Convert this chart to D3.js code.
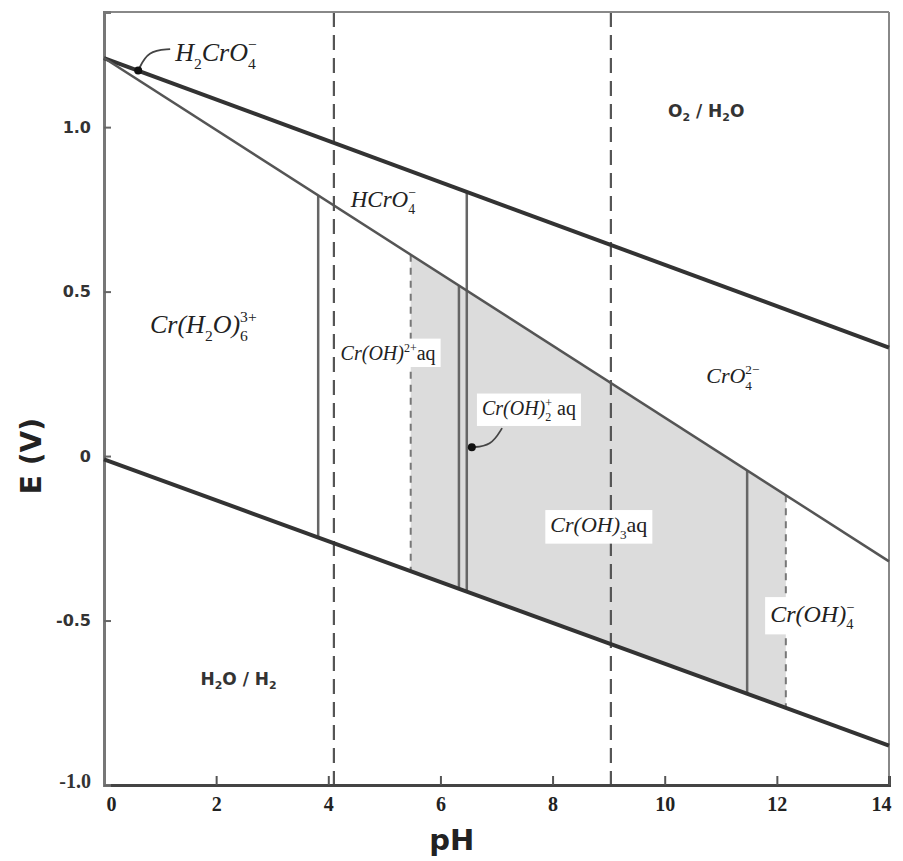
<!DOCTYPE html>
<html>
<head>
<meta charset="utf-8">
<script src="https://cdn.jsdelivr.net/npm/d3@7"></script>
<style>
  html, body { margin: 0; padding: 0; background: #fff; }
  svg { display: block; }
</style>
</head>
<body>
<svg id="chart" width="903" height="861"></svg>
<script>
// ---------------- DATA ----------------
const xTicks = [0, 2, 4, 6, 8, 10, 12, 14];
const yTicks = [-1.0, -0.5, 0, 0.5, 1.0];
const yTickLabels = ["-1.0", "-0.5", "0", "0.5", "1.0"];

// straight lines given by E at pH 0 and E at pH 14
const lineNames = ["o2", "h2", "cr"];
const lineE0  = [1.21, -0.01, 1.21];
const lineE14 = [0.33, -0.88, -0.32];
const lineWidths = [4, 4, 2.5];
const lineColors = ["#333", "#333", "#555"];

// vertical boundaries between species
const boundaryPH   = [3.82, 6.47, 6.33, 11.47, 5.47, 12.16];
const boundaryTop  = ["cr", "o2", "cr", "cr", "cr", "cr"];
const boundaryBot  = ["h2", "cr", "h2", "h2", "h2", "h2"];
const boundaryDash = [false, false, false, false, true, true];
// the 6.47 boundary continues below the Cr line
const boundary2PH = [6.47];

// long reference dashed lines
const refPH = [4.1, 9.04];

// shaded region (between Cr line and H2 line)
const shadeFromPH = 5.47;
const shadeToPH = 12.16;

// species labels
const labelTexts = [
  [{t:"H"},{sub:"2"},{t:"CrO"},{sub:"4",sup:"−"}],
  [{t:"HCrO"},{sub:"4",sup:"−"}],
  [{t:"Cr(H"},{sub:"2"},{t:"O)"},{sub:"6",sup:"3+"}],
  [{t:"Cr(OH)"},{sup:"2+"},{t:"aq",up:true}],
  [{t:"Cr(OH)"},{sub:"2",sup:"+"},{t:" aq",up:true}],
  [{t:"Cr(OH)"},{sub:"3"},{t:"aq",up:true}],
  [{t:"CrO"},{sub:"4",sup:"2−"}],
  [{t:"Cr(OH)"},{sub:"4",sup:"−"}]
];
const labelPH   = [1.27, 4.40, 0.82, 4.22, 6.74, 7.96, 10.74, 11.88];
const labelE    = [1.20, 0.757, 0.374, 0.292, 0.125, -0.231, 0.222, -0.505];
const labelSize = [26, 23, 26, 20, 20, 22, 22, 24];
const labelBox  = [false, true, false, true, true, true, false, true];

// water labels
const waterText = [["O", "2", " / H", "2", "O"], ["H", "2", "O / H", "2", ""]];
const waterPH = [10.74, 2.4];
const waterE  = [1.03, -0.696];

// annotated points with leaders (pH, E of dot ; leader path points)
const dotPH = [0.61, 6.56];
const dotE  = [1.172, 0.027];
const leader1 = [[0.61, 1.172], [0.78, 1.232], [1.18, 1.237]];
const leader2 = [[7.1, 0.085], [6.9, 0.03], [6.56, 0.027]];

// ---------------- CHART ----------------
const svg = d3.select("#chart");
const x = d3.scaleLinear().domain([0, 14]).range([104, 889]);
const y = d3.scaleLinear().domain([-1.0, 1.35]).range([785, 12]);

function lineE(name, ph) {
  const i = lineNames.indexOf(name);
  return lineE0[i] + (lineE14[i] - lineE0[i]) * ph / 14;
}

const gShade = svg.append("g");
const gDash = svg.append("g");
const gBox = svg.append("g");
const gLine = svg.append("g");
const gText = svg.append("g");

// shade
const shadePts = [];
for (const ph of [shadeFromPH, shadeToPH]) shadePts.push([x(ph), y(lineE("cr", ph))]);
for (const ph of [shadeToPH, shadeFromPH]) shadePts.push([x(ph), y(lineE("h2", ph))]);
gShade.append("path")
  .attr("d", d3.line()(shadePts) + "Z")
  .attr("fill", "#dcdcdc");

// long dashed reference lines
gDash.selectAll("line.ref").data(refPH).join("line")
  .attr("x1", d => x(d)).attr("x2", d => x(d))
  .attr("y1", y(1.35)).attr("y2", y(-1.0))
  .attr("stroke", "#555").attr("stroke-width", 2.2)
  .attr("stroke-dasharray", "15,8");

// short dashed boundaries
boundaryPH.forEach((ph, i) => {
  if (!boundaryDash[i]) return;
  gDash.append("line")
    .attr("x1", x(ph)).attr("x2", x(ph))
    .attr("y1", y(lineE(boundaryTop[i], ph))).attr("y2", y(lineE(boundaryBot[i], ph)))
    .attr("stroke", "#777").attr("stroke-width", 2)
    .attr("stroke-dasharray", "7,6");
});

// frame
gLine.append("line").attr("x1", x(0)).attr("x2", x(14)).attr("y1", y(1.35)).attr("y2", y(1.35))
  .attr("stroke", "#888").attr("stroke-width", 2);
gLine.append("line").attr("x1", x(14)).attr("x2", x(14)).attr("y1", y(1.35)).attr("y2", y(-1.0))
  .attr("stroke", "#888").attr("stroke-width", 2);

// axes
const xAxis = d3.axisBottom(x).tickValues(xTicks).tickSize(-9).tickPadding(12).tickFormat(d3.format("d"));
const gx = gLine.append("g").attr("transform", `translate(0,${y(-1.0)})`).call(xAxis);
gx.select(".domain").attr("stroke", "#444").attr("stroke-width", 3);
gx.selectAll(".tick line").attr("stroke", "#555").attr("stroke-width", 2);
gx.selectAll(".tick text")
  .attr("font-family", "'Liberation Serif', serif").attr("font-weight", "bold")
  .attr("font-size", 20).attr("fill", "#222")
  .attr("dx", d => d === 0 ? 7 : (d === 14 ? -8 : 0));

const yAxis = d3.axisLeft(y).tickValues(yTicks).tickSize(-7).tickPadding(13)
  .tickFormat((d, i) => yTickLabels[i]);
const gy = gLine.append("g").attr("transform", `translate(${x(0)},0)`).call(yAxis);
gy.select(".domain").attr("stroke", "#777").attr("stroke-width", 3);
gy.selectAll(".tick line").attr("stroke", "#666").attr("stroke-width", 2);
gy.selectAll(".tick text")
  .attr("font-family", d => d === -1 ? "'Liberation Serif', serif" : "'DejaVu Sans', sans-serif")
  .attr("font-weight", "bold")
  .attr("font-size", d => d === -1 ? 20 : 16).attr("fill", "#333")
  .attr("dy", d => d === -1 ? "0.1em" : "0.32em");

// solid boundaries
boundaryPH.forEach((ph, i) => {
  if (boundaryDash[i]) return;
  gLine.append("line")
    .attr("x1", x(ph)).attr("x2", x(ph))
    .attr("y1", y(lineE(boundaryTop[i], ph))).attr("y2", y(lineE(boundaryBot[i], ph)))
    .attr("stroke", "#666").attr("stroke-width", 2.5);
});
boundary2PH.forEach(ph => {
  gLine.append("line")
    .attr("x1", x(ph)).attr("x2", x(ph))
    .attr("y1", y(lineE("cr", ph))).attr("y2", y(lineE("h2", ph)))
    .attr("stroke", "#666").attr("stroke-width", 2.5);
});

// main lines
lineNames.forEach((n, i) => {
  gLine.append("line")
    .attr("x1", x(0)).attr("y1", y(lineE0[i]))
    .attr("x2", x(14)).attr("y2", y(lineE14[i]))
    .attr("stroke", lineColors[i]).attr("stroke-width", lineWidths[i])
    .attr("stroke-linecap", "butt");
});

// leaders and dots
const curve = d3.line().curve(d3.curveBasis);
[leader1, leader2].forEach(L => {
  gLine.append("path")
    .attr("d", curve(L.map(p => [x(p[0]), y(p[1])])))
    .attr("fill", "none").attr("stroke", "#444").attr("stroke-width", 1.8);
});
dotPH.forEach((ph, i) => {
  gLine.append("circle").attr("cx", x(ph)).attr("cy", y(dotE[i])).attr("r", 4).attr("fill", "#111");
});

// rich species labels
function rich(parts, px, py, size) {
  const t = gText.append("text")
    .attr("x", px).attr("y", py)
    .attr("font-family", "'Liberation Serif', 'Times New Roman', serif")
    .attr("font-size", size).attr("fill", "#222");
  let cur = 0;
  const small = size * 0.6;
  parts.forEach(p => {
    if (p.t !== undefined) {
      t.append("tspan").attr("dy", -cur).attr("font-style", p.up ? "normal" : "italic").text(p.t);
      cur = 0;
    } else {
      let subW = 0;
      if (p.sub !== undefined) {
        const off = size * 0.3;
        const s = t.append("tspan").attr("dy", off - cur).attr("font-size", small)
          .attr("font-style", "normal").text(p.sub);
        cur = off;
        subW = s.node().getComputedTextLength();
      }
      if (p.sup !== undefined) {
        const off = -size * 0.42;
        const s = t.append("tspan").attr("dy", off - cur).attr("font-size", small)
          .attr("font-style", "normal").text(p.sup);
        if (subW) s.attr("dx", -subW);
        cur = off;
      }
    }
  });
  return t;
}

labelTexts.forEach((parts, i) => {
  const t = rich(parts, x(labelPH[i]), y(labelE[i]), labelSize[i]);
  if (labelBox[i]) {
    const b = t.node().getBBox();
    gBox.append("rect")
      .attr("x", b.x - 5).attr("y", b.y - 2)
      .attr("width", b.width + 10).attr("height", b.height + 4)
      .attr("fill", "#fff");
  }
});

// water labels
waterText.forEach((w, i) => {
  const t = gText.append("text")
    .attr("x", x(waterPH[i])).attr("y", y(waterE[i]))
    .attr("text-anchor", "middle")
    .attr("font-family", "'DejaVu Sans', sans-serif").attr("font-weight", "bold")
    .attr("font-size", 17).attr("fill", "#333");
  let cur = 0;
  w.forEach((s, k) => {
    if (s === "") return;
    if (k % 2 === 1) {
      t.append("tspan").attr("dy", 4 - cur).attr("font-size", 11).text(s);
      cur = 4;
    } else {
      t.append("tspan").attr("dy", -cur).text(s);
      cur = 0;
    }
  });
});

// axis titles
svg.append("text")
  .attr("transform", `translate(41,${y(0)}) rotate(-90)`)
  .attr("text-anchor", "middle")
  .attr("font-family", "'DejaVu Sans', sans-serif").attr("font-weight", "bold")
  .attr("font-size", 28).attr("fill", "#222")
  .text("E (V)");
svg.append("text")
  .attr("x", x(6.2)).attr("y", 850)
  .attr("text-anchor", "middle")
  .attr("font-family", "'DejaVu Sans', sans-serif").attr("font-weight", "bold")
  .attr("font-size", 29).attr("fill", "#222")
  .text("pH");
</script>
</body>
</html>
